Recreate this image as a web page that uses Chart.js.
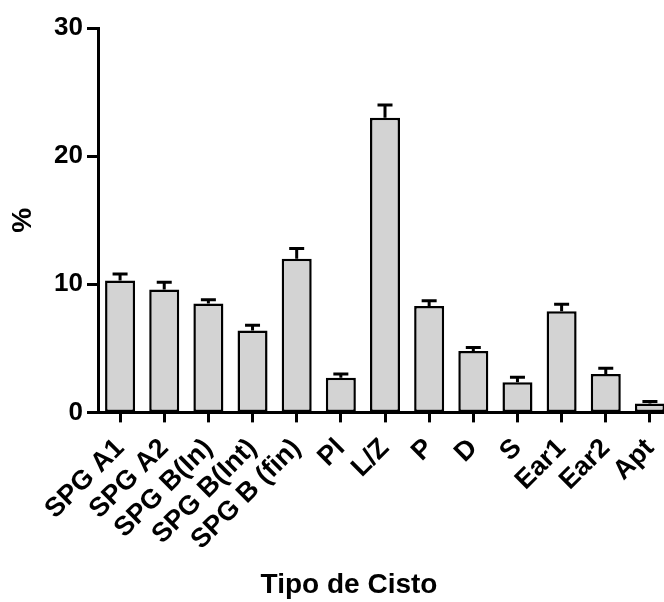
<!DOCTYPE html>
<html>
<head>
<meta charset="utf-8">
<script src="https://cdn.jsdelivr.net/npm/chart.js@4/dist/chart.umd.min.js"></script>
<style>
    html, body { margin: 0; padding: 0; background: #fff; overflow: hidden; }
    #cystChart { display: block; }
</style>
</head>
<body>
<canvas id="cystChart" width="672" height="602"></canvas>
<script>
// Tipo de cisto - media e erro padrao (%)
const categories = ['SPG A1', 'SPG A2', 'SPG B(In)', 'SPG B(Int)', 'SPG B (fin)', 'Pl', 'L/Z', 'P', 'D', 'S', 'Ear1', 'Ear2', 'Apt'];
const means = [10.3, 9.6, 8.5, 6.4, 12.0, 2.7, 23.0, 8.3, 4.8, 2.35, 7.9, 3.0, 0.7];
const errors = [0.5, 0.55, 0.3, 0.4, 0.8, 0.3, 1.0, 0.42, 0.27, 0.4, 0.55, 0.45, 0.15];
const yTicks = [0, 10, 20, 30];

const fontFamily = "'Liberation Sans', Arial, sans-serif";

// upper error bars, drawn with the y scale
const errorBars = {
    id: 'errorBars',
    afterDatasetsDraw(chart) {
        const ctx = chart.ctx;
        const meta = chart.getDatasetMeta(0);
        const yScale = chart.scales.y;
        ctx.save();
        ctx.strokeStyle = '#000';
        ctx.lineWidth = 3;
        meta.data.forEach((bar, i) => {
            const top = yScale.getPixelForValue(means[i] + errors[i]);
            ctx.beginPath();
            ctx.moveTo(bar.x, bar.y);
            ctx.lineTo(bar.x, top);
            ctx.moveTo(bar.x - 7.5, top);
            ctx.lineTo(bar.x + 7.5, top);
            ctx.stroke();
        });
        ctx.restore();
    }
};

const ctx = document.getElementById('cystChart').getContext('2d');
new Chart(ctx, {
    type: 'bar',
    data: {
        labels: categories,
        datasets: [{
            data: means,
            backgroundColor: '#d3d3d3',
            borderColor: '#000',
            borderWidth: 2.5,
            borderSkipped: false,
            barPercentage: 0.68,
            categoryPercentage: 1
        }]
    },
    options: {
        responsive: false,
        animation: false,
        layout: {
            autoPadding: false,
            padding: { left: 26, right: 0, top: 28, bottom: 0 }
        },
        plugins: {
            legend: { display: false },
            tooltip: { enabled: false },
            title: {
                display: true,
                text: 'Tipo de Cisto',
                position: 'bottom',
                color: '#000',
                font: { family: fontFamily, size: 28, weight: 'bold' },
                padding: { top: 2, bottom: 0 }
            }
        },
        scales: {
            x: {
                grid: {
                    offset: false,
                    drawOnChartArea: false,
                    tickLength: 10,
                    tickWidth: 3,
                    tickColor: '#000'
                },
                border: { color: '#000', width: 3 },
                ticks: {
                    color: '#000',
                    font: { family: fontFamily, size: 27, weight: 'bold' },
                    minRotation: 45,
                    maxRotation: 45,
                    autoSkip: false,
                    padding: 10
                },
                afterFit(scale) {
                    scale.height = 154;
                    scale.paddingLeft = 0;
                    scale.paddingRight = 0;
                }
            },
            y: {
                min: 0,
                max: 30,
                afterBuildTicks(scale) {
                    scale.ticks = yTicks.map(v => ({ value: v }));
                },
                grid: {
                    drawOnChartArea: false,
                    tickLength: 11,
                    tickWidth: 3,
                    tickColor: '#000'
                },
                border: { color: '#000', width: 3 },
                ticks: {
                    color: '#000',
                    font: { family: fontFamily, size: 26, weight: 'bold' },
                    padding: 4
                },
                title: {
                    display: true,
                    text: '%',
                    color: '#000',
                    font: { family: fontFamily, size: 28, weight: 'bold' },
                    padding: { top: -20, bottom: 0 }
                },
                afterFit(scale) { scale.width = 72; }
            }
        }
    },
    plugins: [errorBars]
});
</script>
</body>
</html>
